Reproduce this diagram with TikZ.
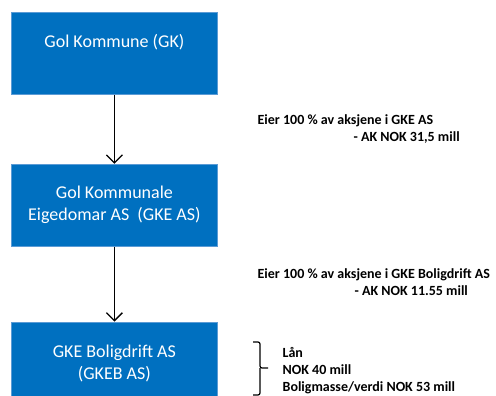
\documentclass[tikz,border=0pt]{standalone}
\usepackage{fontspec}
\setmainfont{Carlito}
\usetikzlibrary{arrows.meta, positioning}
\definecolor{cblue}{HTML}{0070C0}
\definecolor{cedge}{HTML}{5B9BD5}
\tikzset{
  every picture/.style={font=\fontsize{18}{22}\selectfont, line width=1.3pt},
  box/.style={draw=cedge, line width=0.8pt, fill=cblue, text=white, align=center,
    minimum width=206pt, minimum height=82pt, inner sep=0pt},
  arrow/.style={-{Straight Barb[length=8pt, width=16pt, line width=1.3pt]}, draw=black},
  note/.style={font=\fontsize{14}{17}\selectfont\bfseries, align=left, anchor=north west, inner sep=0pt},
}
\begin{document}
\begin{tikzpicture}[x=1pt, y=-1pt]
  \clip (0,0) rectangle (496,396);
  \fill[white] (0,0) rectangle (496,396);
  % ownership chain
  \node[box, anchor=north west] (gk) at (11,12) {Gol Kommune (GK)\\[3pt]\mbox{}};
  \node[box, below=69pt of gk] (gke) {Gol Kommunale\\Eigedomar AS\ \ (GKE AS)};
  \node[box, below=75pt of gke] (gkeb) {GKE Boligdrift AS\\(GKEB AS)};
  \draw[arrow] (gk) -- (gke);
  \draw[arrow] (gke) -- (gkeb);
  % notes to the right
  \node[note] (own1) at (257,114) {Eier 100 \% av aksjene i GKE AS\\\hspace*{96pt}- AK NOK 31,5 mill};
  \node[note] (own2) at (257,268) {Eier 100 \% av aksjene i GKE Boligdrift AS\\\hspace*{97pt}- AK NOK 11.55 mill};
  \node[note] (loan) at (282,347) {Lån\\NOK 40 mill\\Boligmasse/verdi NOK 53 mill};
  % bracket in front of the loan note
  \coordinate (bt) at (253,342);
  \coordinate (bb) at (253,395);
  \draw[line width=1.2pt, rounded corners=2pt] (bt) -- (260,342) -- (260,368) -- (268,368);
  \draw[line width=1.2pt, rounded corners=2pt] (bb) -- (260,395) -- (260,368);
\end{tikzpicture}
\end{document}
